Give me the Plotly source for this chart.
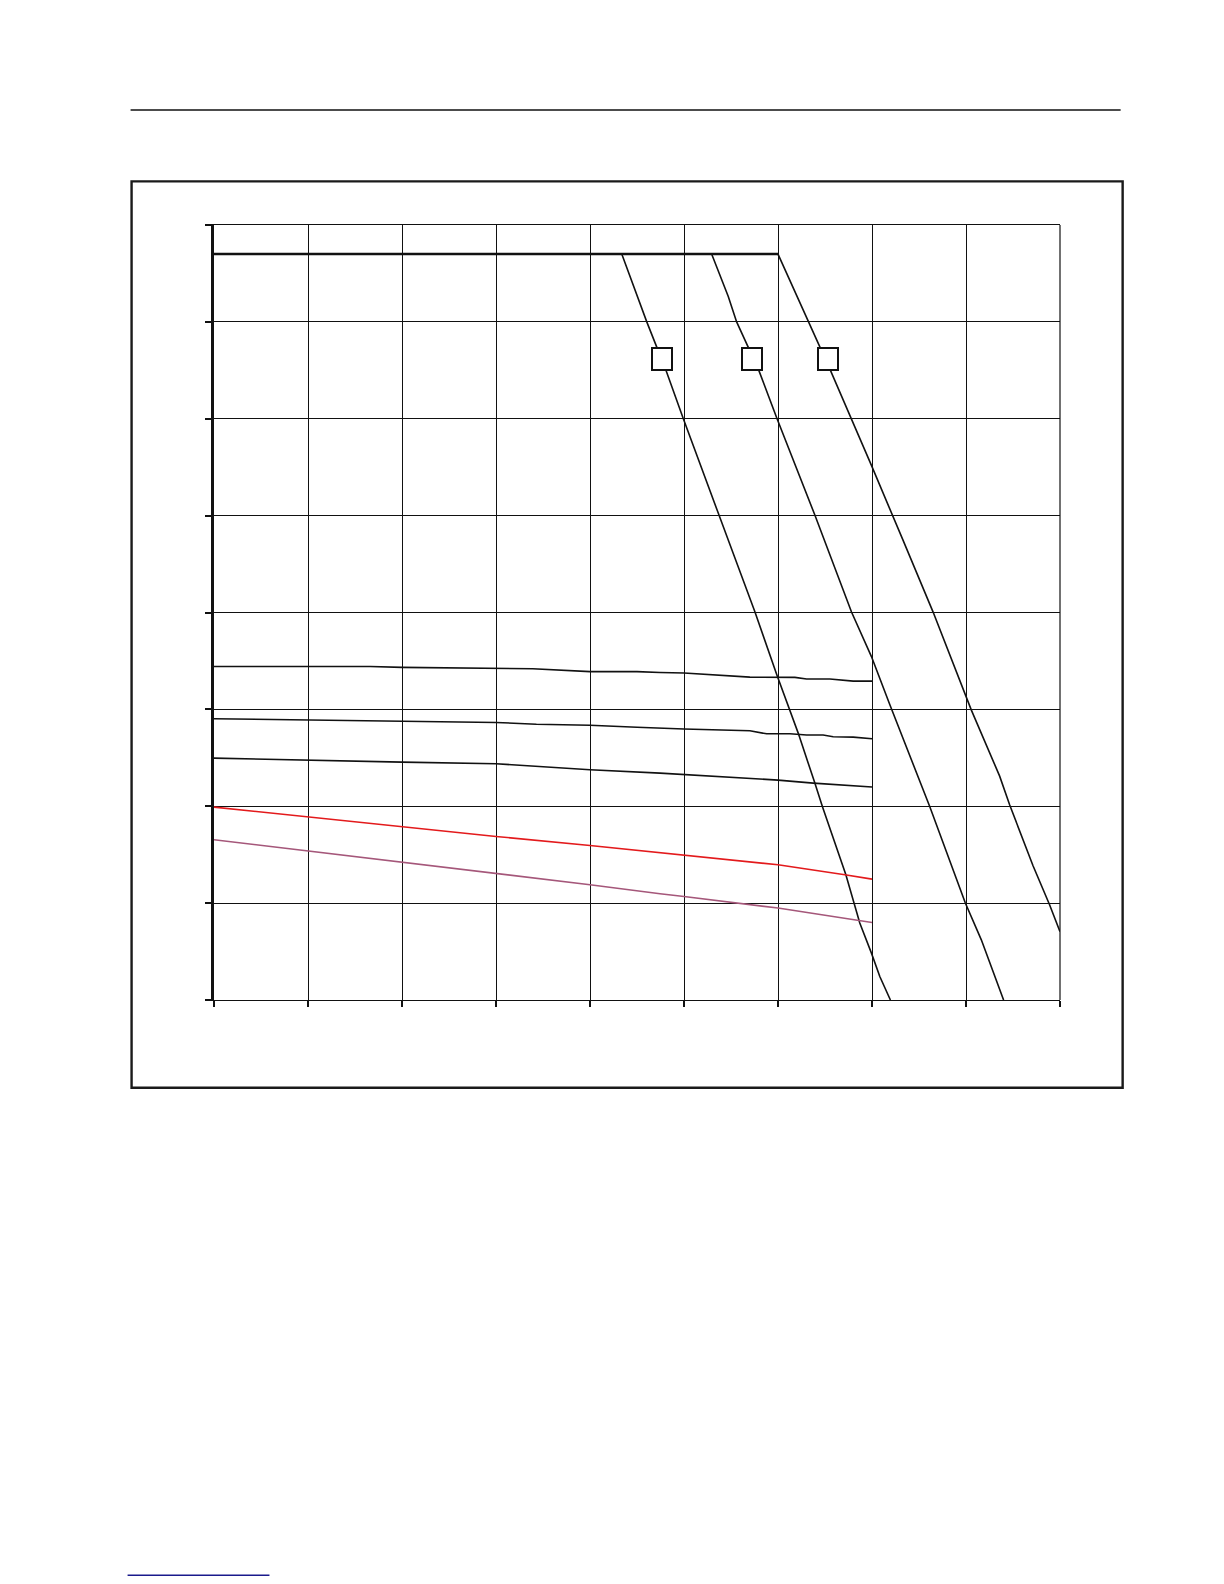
import plotly.graph_objects as go

# %% ---- data (x in grid units 0..9, y in grid units 0..8)
top_x = [0, 6.0]
top_y = [7.70, 7.70]

curve1_x = [4.338, 4.604, 4.809, 4.993, 5.372, 5.755, 5.99, 6.215, 6.392, 6.473, 6.722, 6.870, 6.994, 7.083, 7.196]
curve1_y = [7.70, 7.00, 6.497, 6.00, 5.006, 4.005, 3.35, 2.755, 2.239, 1.995, 1.293, 0.794, 0.484, 0.243, 0.0]

curve2_x = [5.294, 5.471, 5.56, 5.797, 5.99, 6.392, 6.782, 6.994, 7.19, 7.614, 7.993, 8.163, 8.40]
curve2_y = [7.70, 7.263, 7.00, 6.497, 6.00, 5.006, 4.005, 3.545, 3.048, 1.997, 1.001, 0.621, 0.0]

curve3_x = [6.0, 6.33, 6.559, 6.994, 7.10, 7.207, 7.331, 7.649, 7.827, 7.993, 8.057, 8.358, 8.464, 8.712, 8.889, 9.0]
curve3_y = [7.70, 7.00, 6.497, 5.518, 5.279, 5.021, 4.744, 4.007, 3.564, 3.158, 2.992, 2.311, 2.015, 1.389, 0.983, 0.706]

lineA_x = [0, 1.0, 1.663, 2.0, 3.0, 3.39, 4.0, 4.5, 4.745, 5.0, 5.701, 6.0, 6.18, 6.304, 6.552, 6.8, 7.0]
lineA_y = [3.443, 3.443, 3.443, 3.434, 3.419, 3.42, 3.39, 3.39, 3.381, 3.375, 3.333, 3.333, 3.33, 3.313, 3.313, 3.292, 3.292]

lineB_x = [0, 1.0, 2.0, 3.0, 3.43, 4.0, 4.5, 4.745, 5.0, 5.701, 5.879, 6.127, 6.304, 6.48, 6.587, 6.8, 7.0]
lineB_y = [2.903, 2.89, 2.876, 2.865, 2.847, 2.836, 2.815, 2.803, 2.797, 2.779, 2.748, 2.748, 2.735, 2.735, 2.717, 2.714, 2.697]

lineC_x = [0, 1.0, 2.0, 3.0, 4.0, 4.745, 5.0, 6.0, 6.375, 7.0]
lineC_y = [2.497, 2.473, 2.456, 2.439, 2.377, 2.342, 2.328, 2.27, 2.239, 2.198]

red_x = [0, 1.0, 2.0, 3.0, 4.0, 4.745, 5.0, 6.0, 6.711, 7.0]
red_y = [1.991, 1.888, 1.788, 1.688, 1.595, 1.523, 1.496, 1.396, 1.293, 1.248]

mauve_x = [0, 1.0, 2.0, 2.69, 3.0, 4.0, 4.745, 5.0, 6.0, 7.0]
mauve_y = [1.654, 1.537, 1.427, 1.344, 1.31, 1.19, 1.096, 1.069, 0.949, 0.80]

box_x = [4.761, 5.728, 6.535]
box_y = [6.618, 6.618, 6.618]

# %% ---- figure
# page pixel positions; the html body adds an 8px margin, taken off here
OFF = 8
W, H = 1224 - 2 * OFF, 1584 - 2 * OFF
L, R, T, B = 213.5 - OFF, 1060.3 - OFF, 225.3 - OFF, 1000.2 - OFF


def px(x):
    return (x - OFF - L) / (R - L)


def py(y):
    return (B - (y - OFF)) / (B - T)


fig = go.Figure()

black = dict(color='#111111', width=1.6)
for xs, ys in [(curve1_x, curve1_y), (curve2_x, curve2_y), (curve3_x, curve3_y),
               (lineA_x, lineA_y), (lineB_x, lineB_y), (lineC_x, lineC_y)]:
    fig.add_trace(go.Scatter(x=xs, y=ys, mode='lines', line=black))

fig.add_trace(go.Scatter(x=top_x, y=top_y, mode='lines',
                         line=dict(color='#111111', width=2.6)))
fig.add_trace(go.Scatter(x=red_x, y=red_y, mode='lines',
                         line=dict(color='#e31a1c', width=1.6)))
fig.add_trace(go.Scatter(x=mauve_x, y=mauve_y, mode='lines',
                         line=dict(color='#a5577a', width=1.6)))

for bx, by in zip(box_x, box_y):
    fig.add_annotation(x=bx, y=by, text='&nbsp;', showarrow=False,
                       width=18, height=20, borderpad=0, borderwidth=2,
                       bordercolor='#111111', bgcolor='white')

# right border of the plot area (gridline at the edge is not drawn by plotly)
fig.add_shape(type='line', xref='paper', yref='paper',
              x0=1, x1=1, y0=0, y1=1, line=dict(color='#111111', width=1.2))

# page decorations
fig.add_shape(type='line', xref='paper', yref='paper',
              x0=px(130), x1=px(1121), y0=py(110.3), y1=py(110.3),
              line=dict(color='#111111', width=1.4))
fig.add_shape(type='rect', xref='paper', yref='paper',
              x0=px(131), x1=px(1123), y0=py(181.7), y1=py(1088),
              line=dict(color='#1a1a1a', width=2.4))
fig.add_shape(type='line', xref='paper', yref='paper',
              x0=px(127), x1=px(269), y0=py(1575.3), y1=py(1575.3),
              line=dict(color='#1a1a8c', width=1.5))

fig.update_layout(
    width=W, height=H,
    margin=dict(l=L, r=W - R, t=T, b=H - B, pad=0),
    paper_bgcolor='white', plot_bgcolor='white',
    showlegend=False,
    xaxis=dict(range=[0, 9], dtick=1, tick0=0, showgrid=True, gridcolor='#111111',
               gridwidth=1, zeroline=False, showline=True, mirror=True,
               linecolor='#111111', linewidth=1.3, ticks='outside', ticklen=6,
               tickwidth=1.5, tickcolor='#111111', showticklabels=False,
               fixedrange=True),
    yaxis=dict(range=[0, 8], dtick=1, tick0=0, showgrid=True, gridcolor='#111111',
               gridwidth=1, zeroline=False, showline=True, linecolor='#111111',
               linewidth=2.5, ticks='outside', ticklen=6, tickwidth=1.5,
               tickcolor='#111111', showticklabels=False, fixedrange=True),
)

fig.write_html("out.html")
